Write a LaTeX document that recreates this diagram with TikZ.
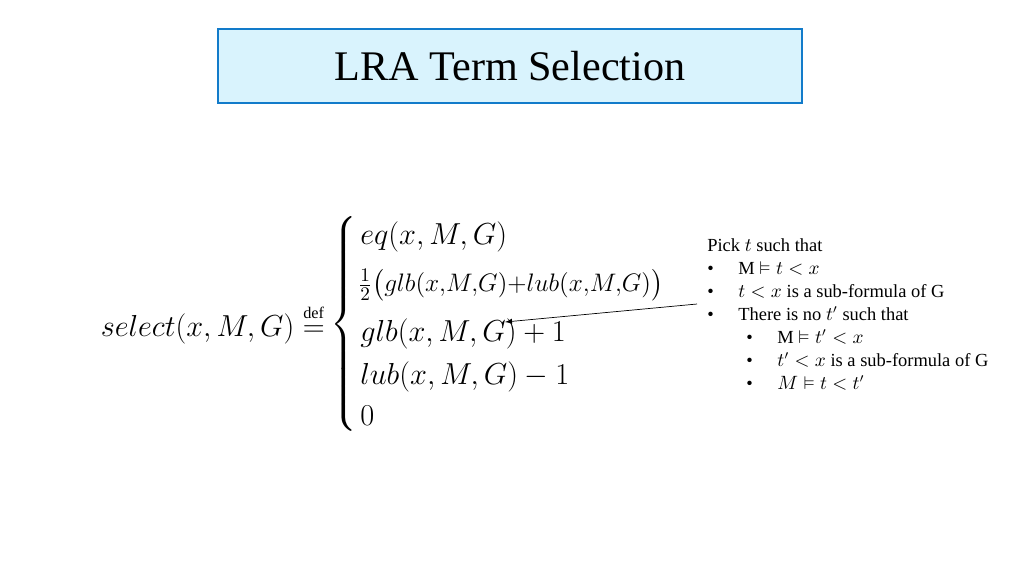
\documentclass[tikz,border=0pt]{standalone}
\usepackage{amsmath,amssymb}
\usepackage{fontspec}
\setmainfont{Liberation Serif}
\begin{document}
\begin{tikzpicture}[
  x=0.02cm, y=-0.02cm,
  titlebox/.style={rectangle, draw=cyan!60!blue, fill=cyan!15, line width=0.8pt, minimum width=11.68cm, minimum height=1.48cm, font=\fontsize{24}{28}\selectfont},
  mathtext/.style={anchor=west, inner sep=0pt, font=\fontsize{18.5}{22}\selectfont},
  pick/.style={anchor=west, inner sep=0pt, font=\fontsize{10.5}{12}\selectfont}
]
\useasboundingbox (0,0) rectangle (1024,576);

% Title
\node[titlebox] (title) at (510,66) {LRA Term Selection};

% Definition
\node[mathtext, anchor=east] (select) at (325,324) {$\mathnormal{select}(x,M,G)\overset{\scriptscriptstyle\mathrm{def}}{=}$};
\node[inner sep=0pt] (brace) at (345,323) {\fontsize{17}{20}\selectfont$\left\{\rule{0pt}{2.35cm}\right.$};
\node[mathtext] (eq) at (360,237) {$\mathnormal{eq}(x,M,G)$};
\node[mathtext, font=\fontsize{15}{18}\selectfont] (half) at (358,285) {$\frac{1}{2}\big(\mathnormal{glb}(x,\!M,\!G){+}\mathnormal{lub}(x,\!M,\!G)\big)$};
\node[mathtext] (glb) at (360,334) {$\mathnormal{glb}(x,M,G)+1$};
\node[mathtext] (lub) at (360,377) {$\mathnormal{lub}(x,M,G)-1$};
\node[mathtext] (zero) at (360,416) {$0$};

% Conditions
\node[pick] (p0) at (707,245) {Pick $t$ such that};
\node[pick] (p1) at (707,268) {\textbullet\hspace{14pt}M $\vDash t<x$};
\node[pick] (p2) at (707,291) {\textbullet\hspace{14pt}$t<x$ is a sub-formula of G};
\node[pick] (p3) at (707,314) {\textbullet\hspace{14pt}There is no $t'$ such that};
\node[pick] (p4) at (746,337) {\textbullet\hspace{14pt}M $\vDash t'<x$};
\node[pick] (p5) at (746,360) {\textbullet\hspace{14pt}$t'<x$ is a sub-formula of G};
\node[pick] (p6) at (746,383) {\textbullet\hspace{14pt}$M\vDash t<t'$};

% Arrow
\coordinate (tip) at (505,322);
\draw[->, >=latex] (p3.west) ++(-10,-10) -- (tip);
\end{tikzpicture}
\end{document}
